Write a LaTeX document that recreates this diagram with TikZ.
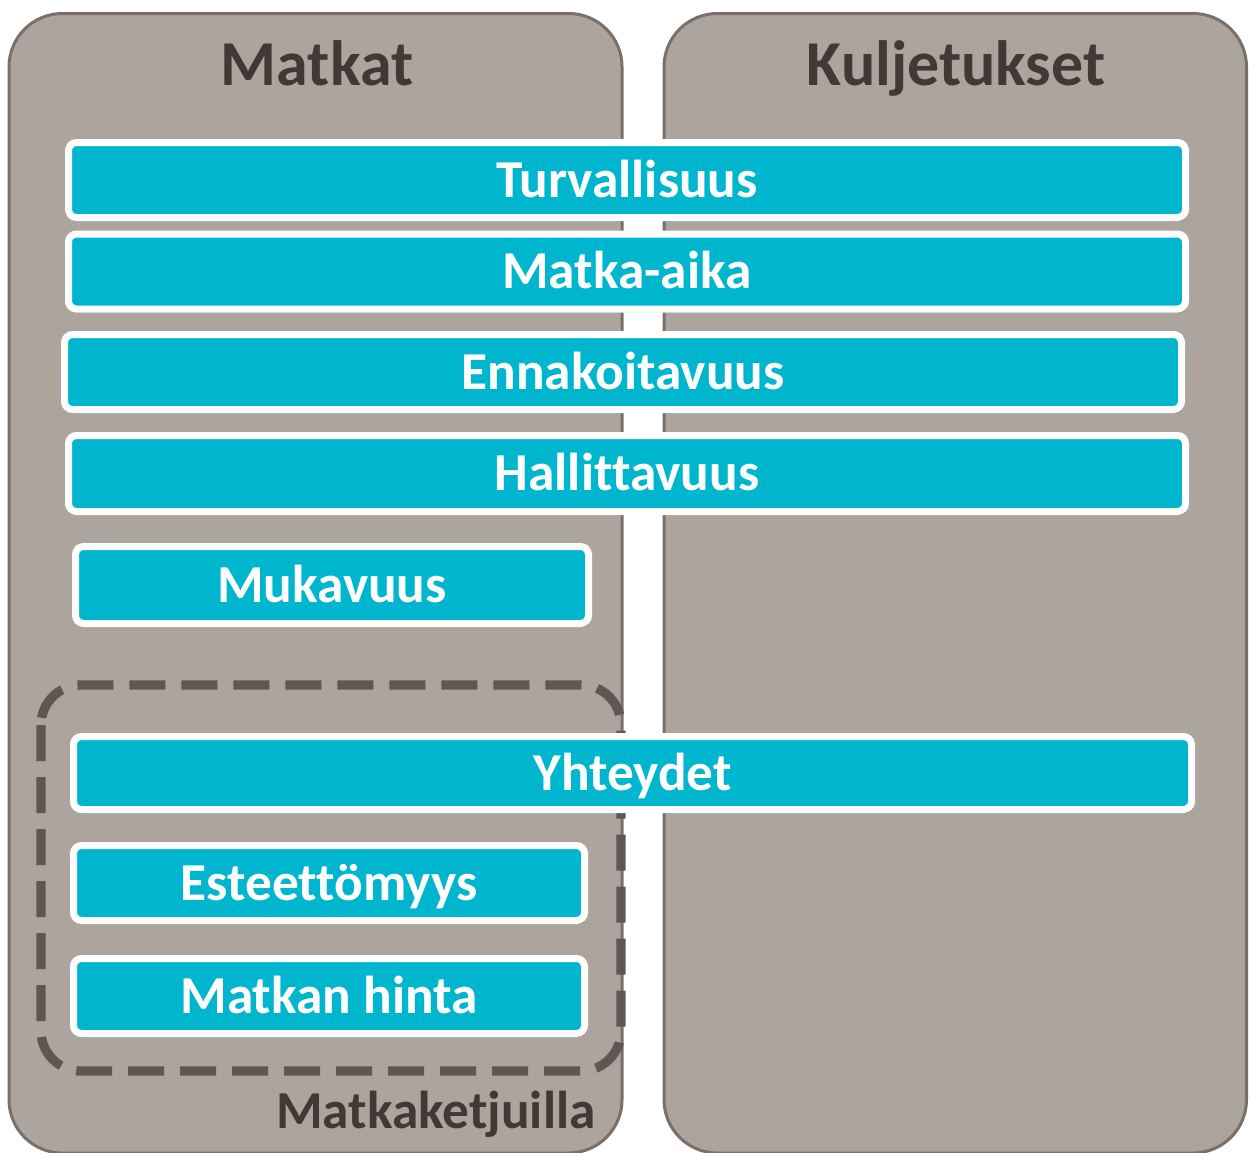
\documentclass[tikz,border=0pt]{standalone}
\usepackage{fontspec}
\setmainfont{Carlito}[Ligatures=NoCommon]
\usetikzlibrary{shadows}
\definecolor{panelfill}{RGB}{172,164,157}
\definecolor{paneldraw}{RGB}{122,112,105}
\definecolor{barfill}{RGB}{0,182,206}
\definecolor{titletext}{RGB}{64,57,53}
\definecolor{dashdraw}{RGB}{95,87,81}
\tikzset{every picture/.style={line width=0.75pt},
  panel/.style={draw=paneldraw,fill=panelfill,line width=2.25pt,rounded corners=40pt},
  bar/.style={draw=white,fill=barfill,line width=5.25pt,rounded corners=6pt,inner sep=0pt,
    text=white,font=\fontsize{40}{48}\selectfont\bfseries,text height=25.8pt,text depth=0pt,
    drop shadow={shadow xshift=1.5pt,shadow yshift=-2.5pt,opacity=0.35,fill=black}},
  title/.style={inner sep=0pt,text=titletext,font=\fontsize{48}{58}\selectfont\bfseries,
    text height=31pt,text depth=0pt},
  chainbox/.style={draw=dashdraw,line width=7pt,rounded corners=30pt,dash pattern={on 27pt off 12pt}}
}

\begin{document}
\begin{tikzpicture}[x=0.75pt,y=0.75pt,yscale=-1,xscale=1]
    \useasboundingbox (0,0) rectangle (1250,1153);

    %Shape: Rectangle [id:panel_matkat]
    \draw [panel] (9,13.5) rectangle (622,1153) ;
    %Shape: Rectangle [id:panel_kuljetukset]
    \draw [panel] (664,13.5) rectangle (1246.5,1153) ;
    %Shape: Rectangle [id:box_ketjut]
    \draw [chainbox] (41,685) rectangle (621,1071) ;

    % Text Node
    \node (matkat) [title] at (317,65) {Matkat};
    % Text Node
    \node (kulj) [title] at (956,65) {Kuljetukset};
    % Text Node
    \node (ketjut) [title,anchor=east,font=\fontsize{40}{48}\selectfont\bfseries,text height=25.8pt] at (596,1111.5) {Matkaketjuilla};

    % Text Node
    \node (turv) [bar,minimum width=837.75pt,minimum height=56.25pt] at (627,180) {Turvallisuus};
    % Text Node
    \node (aika) [bar,minimum width=837.75pt,minimum height=56.25pt] at (627,271.5) {Matka-aika};
    % Text Node
    \node (ennak) [bar,minimum width=837.75pt,minimum height=56.25pt] at (623,372) {Ennakoitavuus};
    % Text Node
    \node (hallit) [bar,minimum width=837.75pt,minimum height=57pt] at (627,473.5) {Hallittavuus};
    % Text Node
    \node (mukav) [bar,minimum width=384.75pt,minimum height=57.75pt] at (332,585) {Mukavuus};
    % Text Node
    \node (yhteys) [bar,minimum width=838.5pt,minimum height=54.75pt] at (632.5,773) {Yhteydet};
    % Text Node
    \node (esteet) [bar,minimum width=383.25pt,minimum height=56.25pt] at (329,883) {Esteettömyys};
    % Text Node
    \node (hinta) [bar,minimum width=383.25pt,minimum height=56.25pt] at (329,996) {Matkan hinta};
\end{tikzpicture}
\end{document}
